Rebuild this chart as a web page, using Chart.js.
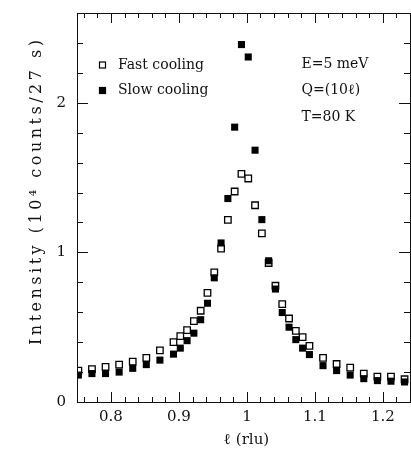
<!DOCTYPE html>
<html>
<head>
<meta charset="utf-8">
<script src="https://cdn.jsdelivr.net/npm/chart.js@4.4.0/dist/chart.umd.min.js"></script>
<style>
html,body{margin:0;padding:0;background:#fff;}
#c{display:block;}
</style>
</head>
<body>
<canvas id="c" width="411" height="466"></canvas>
<script>
// l (rlu) positions of the scan points
const lValues = [0.752,0.772,0.792,0.812,0.832,0.852,0.872,0.892,0.902,0.912,0.922,0.932,0.942,0.952,0.962,0.972,0.982,0.992,1.002,1.012,1.022,1.032,1.042,1.052,1.062,1.072,1.082,1.092,1.112,1.132,1.152,1.172,1.192,1.212,1.232];
// Intensity (10^4 counts / 27 s)
const fastCooling = [0.21,0.22,0.235,0.25,0.27,0.295,0.345,0.40,0.44,0.48,0.54,0.61,0.73,0.866,1.025,1.217,1.407,1.525,1.494,1.315,1.127,0.929,0.777,0.654,0.558,0.476,0.433,0.375,0.295,0.254,0.23,0.19,0.17,0.17,0.152];
const slowCooling = [0.18,0.19,0.19,0.20,0.225,0.25,0.28,0.32,0.36,0.41,0.46,0.55,0.66,0.83,1.063,1.36,1.837,2.389,2.306,1.683,1.219,0.944,0.755,0.598,0.50,0.417,0.36,0.317,0.243,0.21,0.18,0.156,0.143,0.139,0.134];
const xTickLabels = [0.8,0.9,1.0,1.1,1.2];
const yTickLabels = [0,1,2];
const xMinorTicks = [0.76,0.78,0.82,0.84,0.86,0.88,0.92,0.94,0.96,0.98,1.02,1.04,1.06,1.08,1.12,1.14,1.16,1.18,1.22,1.24];
const yMinorTicks = [0.2,0.4,0.6,0.8,1.2,1.4,1.6,1.8,2.2,2.4];
const annotations = ['E=5 meV','Q=(10ℓ)','T=80 K'];
const legendLabels = ['Fast cooling','Slow cooling'];
const xTitle = 'ℓ (rlu)';
const yTitle = 'Intensity (10⁴ counts/27 s)';

const INK = '#111';
const FONT = 'DejaVu Serif';

function spacedText(ctx, text, x0, y0, totalLen){
  const chars = Array.from(text);
  const widths = chars.map(c=>ctx.measureText(c).width);
  const natural = widths.reduce((s,w)=>s+w,0);
  const gap = Math.max(0,(totalLen - natural)/(chars.length-1));
  let x = x0;
  chars.forEach((c,i)=>{ ctx.fillText(c, x, y0); x += widths[i] + gap; });
}

const decor = {
  id:'decor',
  afterDraw(chart){
    const {ctx, chartArea:a, scales:{x,y}} = chart;
    ctx.save();
    ctx.strokeStyle = INK;
    ctx.lineWidth = 1;
    ctx.strokeRect(Math.round(a.left)+0.5, Math.round(a.top)+0.5, Math.round(a.right-a.left), Math.round(a.bottom-a.top));
    ctx.beginPath();
    const xt = (v,len)=>{const px=Math.round(x.getPixelForValue(v))+0.5; ctx.moveTo(px,a.bottom); ctx.lineTo(px,a.bottom-len); ctx.moveTo(px,a.top); ctx.lineTo(px,a.top+len);};
    const yt = (v,len)=>{const py=Math.round(y.getPixelForValue(v))+0.5; ctx.moveTo(a.left,py); ctx.lineTo(a.left+len,py); ctx.moveTo(a.right,py); ctx.lineTo(a.right-len,py);};
    xTickLabels.forEach(v=>xt(v,10));
    xMinorTicks.forEach(v=>xt(v,5));
    yTickLabels.forEach(v=>yt(v,11));
    yMinorTicks.forEach(v=>yt(v,6));
    ctx.stroke();

    // legend
    ctx.fillStyle = INK;
    ctx.font = '14px "'+FONT+'"';
    ctx.textBaseline = 'middle';
    ctx.textAlign = 'left';
    const lg = [[65,'#fff'],[90.5,'#000']];
    legendLabels.forEach((t,i)=>{
      const cy = lg[i][0];
      ctx.fillStyle = lg[i][1];
      ctx.fillRect(99.5, cy-3, 6, 6);
      ctx.strokeStyle = '#000'; ctx.lineWidth = 1.2;
      ctx.strokeRect(99.5, cy-3, 6, 6);
      ctx.fillStyle = INK;
      ctx.fillText(t, 118, cy);
    });
    const ay = [64, 90.7, 117];
    annotations.forEach((t,i)=>ctx.fillText(t, 301.5, ay[i]));

    // titles
    ctx.font = '15px "'+FONT+'"';
    ctx.textAlign = 'center';
    ctx.fillText(xTitle, 246.5, 440);
    ctx.font = '16px "'+FONT+'"';
    ctx.translate(37, 345);
    ctx.rotate(-Math.PI/2);
    ctx.textAlign = 'left';
    spacedText(ctx, yTitle, 0, 0, 305);
    ctx.restore();
  }
};

new Chart(document.getElementById('c'), {
  type:'scatter',
  data:{
    datasets:[
      {label:legendLabels[1], data:lValues.map((v,i)=>({x:v,y:slowCooling[i]})), pointStyle:'rect', pointRadius:5, backgroundColor:'#000', borderColor:'#000', borderWidth:0},
      {label:legendLabels[0], data:lValues.map((v,i)=>({x:v,y:fastCooling[i]})), pointStyle:'rect', pointRadius:4.6, backgroundColor:'#fff', borderColor:'#000', borderWidth:1.3}
    ]
  },
  options:{
    responsive:false,
    animation:false,
    events:[],
    layout:{autoPadding:false, padding:{top:13,right:1,left:0,bottom:0}},
    plugins:{legend:{display:false}, tooltip:{enabled:false}},
    scales:{
      x:{
        type:'linear', min:0.75, max:1.24,
        afterBuildTicks:(s)=>{s.ticks = xTickLabels.map(v=>({value:v}));},
        afterFit:(s)=>{s.height = 64; s.paddingLeft = 0; s.paddingRight = 0;},
        grid:{display:false, drawTicks:false},
        border:{display:false},
        ticks:{color:INK, font:{family:FONT, size:15}, padding:6, maxRotation:0, autoSkip:false,
          callback:(v)=> (v===1? '1' : String(v))}
      },
      y:{
        type:'linear', min:0, max:2.6,
        afterBuildTicks:(s)=>{s.ticks = yTickLabels.map(v=>({value:v}));},
        afterFit:(s)=>{s.width = 77; s.paddingTop = 0; s.paddingBottom = 0;},
        grid:{display:false, drawTicks:false},
        border:{display:false},
        ticks:{color:INK, font:{family:FONT, size:15}, padding:11, autoSkip:false}
      }
    }
  },
  plugins:[decor]
});
</script>
</body>
</html>
